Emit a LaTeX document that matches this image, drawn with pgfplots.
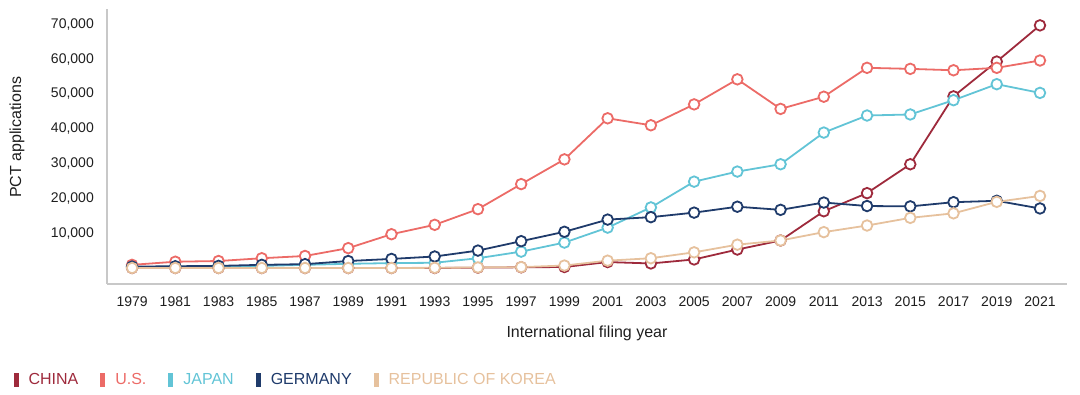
\documentclass[border=0pt]{standalone}
\usepackage{pgfplots}
\pgfplotsset{compat=1.18}
\usepackage{fontspec}
\setmainfont{Liberation Sans}
\definecolor{cn}{HTML}{9E2A3C}
\definecolor{us}{HTML}{EC6B67}
\definecolor{jp}{HTML}{62C4D6}
\definecolor{de}{HTML}{1F3B6B}
\definecolor{kr}{HTML}{E6C19D}
\definecolor{txt}{HTML}{1E1E1E}
\definecolor{axgray}{HTML}{C8C8C8}
\begin{document}
\begin{tikzpicture}[x=1pt,y=1pt]
\useasboundingbox (0,0) rectangle (1080,395);
\begin{axis}[
  at={(107pt,111pt)}, anchor=south west,
  scale only axis, width=960pt, height=275pt,
  xmin=1977.84, xmax=2022.25, ymin=-4600, ymax=74400,
  axis lines=left, axis line style={-, draw=axgray, line width=1.5pt},
  major tick length=0pt,
  xtick={1979,1981,...,2021},
  ytick={10000,20000,...,70000},
  scaled y ticks=false,
  /pgf/number format/assume math mode=true,
  x tick label style={/pgf/number format/1000 sep={}, font=\fontsize{14}{16}\selectfont, text=txt, inner sep=0pt, anchor=north, yshift=-12.5pt},
  y tick label style={/pgf/number format/1000 sep={,}, font=\fontsize{14}{16}\selectfont, text=txt, inner sep=0pt, anchor=east, xshift=-13pt},
  xlabel={International filing year},
  ylabel={PCT applications},
  every axis x label/.style={at={(axis description cs:0.5,-0.178)}, anchor=center, font=\fontsize{16}{18}\selectfont, text=txt},
  every axis y label/.style={at={(axis description cs:-0.09375,0.533)}, rotate=90, anchor=center, font=\fontsize{16}{18}\selectfont, text=txt},
  clip=false,
  every axis plot/.append style={line width=1.8pt, mark=*, mark size=5.3pt, mark options={fill=white, line width=1.8pt}},
  legend columns=-1,
  legend style={at={(axis description cs:-0.0976,-0.349)}, anchor=west, draw=none, fill=none, inner sep=0pt,
    font=\fontsize{16}{18}\selectfont,
    nodes={inner sep=0pt},
    /tikz/every odd column/.append style={column sep=10pt},
    /tikz/every even column/.append style={column sep=22pt}},
  legend image code/.code={\draw[#1, line width=5pt] (2.5pt,-7pt) -- (2.5pt,7pt);},
]
% CHINA
\addplot[color=cn] coordinates {
(1979,0) (1981,0) (1983,0) (1985,0) (1987,0) (1989,0) (1991,0) (1993,0) (1995,100) (1997,200)
(1999,280) (2001,1700) (2003,1300) (2005,2450) (2007,5300) (2009,7900) (2011,16300) (2013,21500)
(2015,29800) (2017,49300) (2019,59300) (2021,69700)};
\addlegendentry{\textcolor{cn}{CHINA}}
% US
\addplot[color=us] coordinates {
(1979,900) (1981,1800) (1983,2000) (1985,2800) (1987,3450) (1989,5700) (1991,9700) (1993,12400)
(1995,16900) (1997,24100) (1999,31200) (2001,43000) (2003,41000) (2005,47000) (2007,54200)
(2009,45700) (2011,49200) (2013,57500) (2015,57200) (2017,56800) (2019,57500) (2021,59600)};
\addlegendentry{\textcolor{us}{U.S.}}
% JAPAN
\addplot[color=jp] coordinates {
(1979,250) (1981,350) (1983,450) (1985,600) (1987,900) (1989,1200) (1991,1400) (1993,1500)
(1995,2800) (1997,4700) (1999,7300) (2001,11600) (2003,17400) (2005,24800) (2007,27700)
(2009,29800) (2011,38900) (2013,43800) (2015,44100) (2017,48200) (2019,52800) (2021,50300)};
\addlegendentry{\textcolor{jp}{JAPAN}}
% GERMANY
\addplot[color=de] coordinates {
(1979,400) (1981,500) (1983,600) (1985,900) (1987,1100) (1989,2000) (1991,2600) (1993,3300)
(1995,5000) (1997,7700) (1999,10400) (2001,13900) (2003,14600) (2005,15900) (2007,17600)
(2009,16700) (2011,18800) (2013,17800) (2015,17700) (2017,18900) (2019,19300) (2021,17100)};
\addlegendentry{\textcolor{de}{GERMANY}}
% KOREA
\addplot[color=kr] coordinates {
(1979,0) (1981,0) (1983,0) (1985,0) (1987,0) (1989,0) (1991,0) (1993,50) (1995,150) (1997,250)
(1999,700) (2001,2100) (2003,2800) (2005,4500) (2007,6700) (2009,7900) (2011,10300) (2013,12200)
(2015,14400) (2017,15700) (2019,19000) (2021,20700)};
\addlegendentry{\textcolor{kr}{REPUBLIC OF KOREA}}
\end{axis}
\end{tikzpicture}
\end{document}
